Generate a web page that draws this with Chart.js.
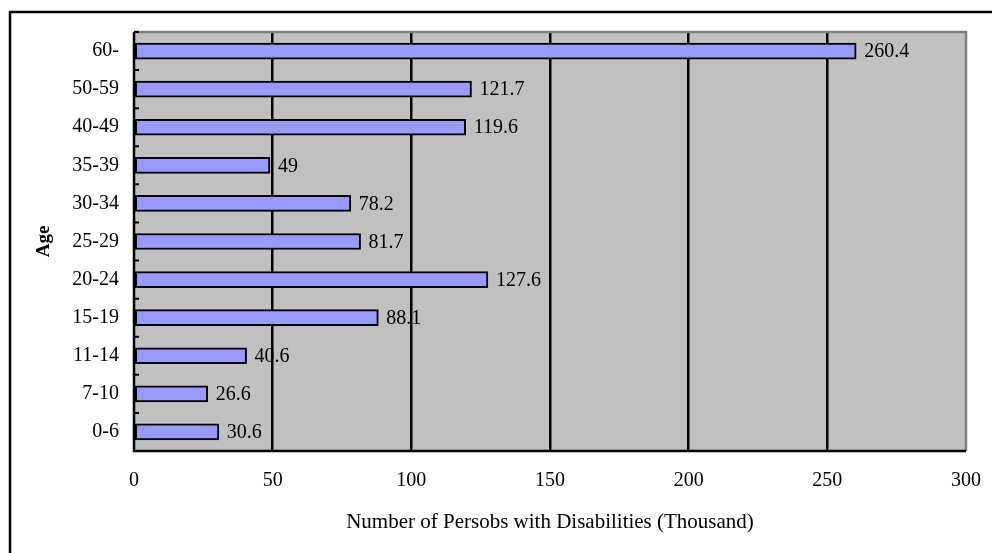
<!DOCTYPE html>
<html>
<head>
<meta charset="utf-8">
<script src="https://cdn.jsdelivr.net/npm/chart.js@4/dist/chart.umd.min.js"></script>
<style>
  html, body { margin: 0; padding: 0; background: #ffffff; }
  #wrap { width: 992px; height: 553px; }
</style>
</head>
<body>
<div id="wrap"><canvas id="c" width="992" height="553"></canvas></div>
<script>
const categories = ['60-', '50-59', '40-49', '35-39', '30-34', '25-29', '20-24', '15-19', '11-14', '7-10', '0-6'];
const values = [260.4, 121.7, 119.6, 49, 78.2, 81.7, 127.6, 88.1, 40.6, 26.6, 30.6];
const xTicks = [0, 50, 100, 150, 200, 250, 300];
const xTitle = 'Number of Persobs with Disabilities (Thousand)';
const yTitle = 'Age';

const FONT = 'Liberation Serif, Times New Roman, serif';

const decor = {
  id: 'decor',
  beforeDraw(chart) {
    const {ctx, chartArea: a} = chart;
    ctx.save();
    // outer border
    ctx.strokeStyle = '#000';
    ctx.lineWidth = 2.5;
    ctx.beginPath();
    ctx.moveTo(10, 600);
    ctx.lineTo(10, 12);
    ctx.lineTo(1100, 12);
    ctx.stroke();
    // plot background
    ctx.fillStyle = '#C0C0C0';
    ctx.fillRect(a.left, a.top, a.right - a.left, a.bottom - a.top);
    // data labels (drawn under gridlines, as in reference)
    const meta = chart.getDatasetMeta(0);
    ctx.fillStyle = '#000';
    ctx.font = '20px ' + FONT;
    ctx.textAlign = 'left';
    ctx.textBaseline = 'middle';
    meta.data.forEach((bar, i) => {
      ctx.fillText(String(values[i]), bar.x + 8, bar.y + 1);
    });
    ctx.restore();
  },
  afterDraw(chart) {
    const {ctx, chartArea: a} = chart;
    ctx.save();
    // top & right plot borders (gray)
    ctx.strokeStyle = '#808080';
    ctx.lineWidth = 2.5;
    ctx.beginPath();
    ctx.moveTo(a.left, a.top);
    ctx.lineTo(a.right, a.top);
    ctx.lineTo(a.right, a.bottom);
    ctx.stroke();
    // left & bottom axis lines (black)
    ctx.strokeStyle = '#000';
    ctx.lineWidth = 2.5;
    ctx.beginPath();
    ctx.moveTo(a.left, a.top);
    ctx.lineTo(a.left, a.bottom);
    ctx.lineTo(a.right, a.bottom);
    ctx.stroke();
    // inward tick marks at category boundaries
    const n = categories.length;
    const step = (a.bottom - a.top) / n;
    ctx.lineWidth = 2;
    ctx.beginPath();
    for (let i = 0; i <= n; i++) {
      const py = a.top + i * step;
      ctx.moveTo(a.left, py);
      ctx.lineTo(a.left + 5, py);
    }
    ctx.stroke();
    ctx.restore();
  }
};

new Chart(document.getElementById('c'), {
  type: 'bar',
  data: {
    labels: categories,
    datasets: [{
      data: values,
      backgroundColor: '#9999FF',
      borderColor: '#000000',
      borderWidth: 2,
      borderSkipped: false,
      barThickness: 16
    }]
  },
  options: {
    indexAxis: 'y',
    responsive: false,
    animation: false,
    devicePixelRatio: 1,
    layout: { padding: { top: 32, right: 26, left: 0, bottom: 0 } },
    plugins: { legend: { display: false }, tooltip: { enabled: false } },
    scales: {
      x: {
        min: 0, max: 300,
        afterBuildTicks(scale) { scale.ticks = xTicks.map(v => ({ value: v })); },
        afterFit(scale) { scale.height = 102; scale.paddingLeft = 0; scale.paddingRight = 0; },
        grid: {
          color: ctx => (ctx.index === 0 || ctx.index === xTicks.length - 1) ? 'rgba(0,0,0,0)' : '#000',
          lineWidth: 2.5,
          drawTicks: false
        },
        border: { display: false },
        ticks: { color: '#000', font: { family: FONT, size: 20 }, padding: 18, maxRotation: 0 },
        title: {
          display: true, text: xTitle, color: '#000',
          font: { family: FONT, size: 21 },
          padding: { top: 0, bottom: 18 }
        }
      },
      y: {
        afterFit(scale) { scale.width = 134; scale.paddingTop = 0; scale.paddingBottom = 0; },
        grid: { display: false, drawTicks: false },
        border: { display: false },
        ticks: { color: '#000', font: { family: FONT, size: 20 }, padding: 15 },
        title: {
          display: true, text: yTitle, color: '#000',
          font: { family: FONT, size: 19, weight: 'bold' },
          padding: { top: 33, bottom: 0 }
        }
      }
    }
  },
  plugins: [decor]
});
</script>
</body>
</html>
